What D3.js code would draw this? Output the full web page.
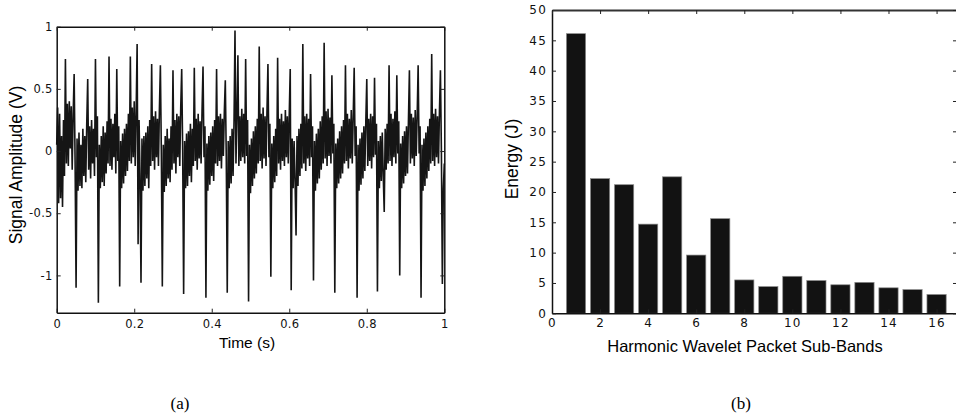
<!DOCTYPE html>
<html>
<head>
<meta charset="utf-8">
<script src="https://cdn.jsdelivr.net/npm/d3@7"></script>
<style>
  body { margin: 0; background: #fff; }
  svg { display: block; }
  .tick text { fill: #111; }
</style>
</head>
<body>
<script>
// ---- data ----
// (a) vibration signal, 400 samples over 1 s
const signalDuration = 1;
const signal = [
  0.05, 0.35, -0.42, 0.3, -0.38, 0.12, -0.45, 0.25, -0.2, 0.74, -0.1, 0.38, -0.12, 0.4, 0.02, 0.36, -0.15, 0.3, 0.62, -0.1,
  -1.10, 0.1, -0.32, 0.15, -0.28, 0.05, -0.3, 0.18, -0.2, 0.12, -0.25, 0.22, 0.58, -0.15, 0.2, -0.22, 0.25, -0.1, 0.18, -0.2,
  0.74, -0.05, 0.28, -1.22, 0.05, -0.3, 0.12, -0.25, 0.2, -0.28, 0.15, -0.18, 0.24, -0.1, 0.76, -0.12, 0.26, -0.15, 0.22, -0.05,
  0.3, -0.18, 0.66, -0.08, 0.2, -1.09, 0.08, -0.3, 0.14, -0.26, 0.18, -0.2, 0.22, -0.16, 0.3, -0.08, 0.76, -0.1, 0.35, -0.05,
  0.4, -0.12, 0.32, 0.86, -0.75, 0.25, -0.2, -1.06, 0.1, -0.32, 0.12, -0.28, 0.15, -0.22, 0.2, -0.3, 0.25, -0.12, 0.70, -0.08,
  0.28, -0.15, 0.32, -0.05, 0.26, -0.12, 0.34, 0.69, -0.02, -1.09, 0.05, -0.33, 0.12, -0.28, 0.18, -0.22, 0.1, -0.25, 0.2, -0.15,
  0.65, -0.1, 0.25, -0.18, 0.3, -0.05, 0.28, -0.12, 0.35, 0.66, 0.0, -1.15, 0.08, -0.3, 0.14, -0.28, 0.16, -0.2, 0.22, -0.25,
  0.18, -0.12, 0.67, -0.08, 0.26, -0.15, 0.3, -0.06, 0.24, -0.1, 0.33, 0.68, -0.05, 0.2, -1.18, 0.06, -0.32, 0.12, -0.27, 0.15,
  -0.2, 0.2, -0.24, 0.25, -0.1, 0.66, -0.12, 0.28, -0.08, 0.3, -0.14, 0.26, -0.04, 0.32, 0.57, -0.06, -1.14, 0.08, -0.3, 0.12,
  -0.26, 0.18, -0.2, 0.24, 0.97, -0.1, 0.3, 0.77, -0.12, 0.28, -0.08, 0.34, -0.05, 0.3, -0.1, 0.74, -0.04, 0.25, -1.21, 0.05,
  -0.34, 0.1, -0.28, 0.16, -0.22, 0.2, -0.18, 0.26, -0.1, 0.84, -0.08, 0.3, -0.14, 0.35, -0.06, 0.28, -0.12, 0.32, 0.70, -0.05,
  0.22, -1.01, 0.06, -0.3, 0.12, -0.25, 0.18, -0.2, 0.75, -0.1, 0.26, -0.15, 0.3, -0.08, 0.24, -0.12, 0.33, -0.05, 0.28, -0.1,
  0.3, 0.66, -1.12, 0.1, -0.3, 0.08, -0.25, -0.68, 0.12, -0.28, 0.18, -0.2, 0.22, -0.14, 0.86, -0.1, 0.28, -0.16, 0.3, -0.06,
  0.26, -0.12, 0.62, -0.05, 0.2, -1.04, 0.08, -0.32, 0.14, -0.26, 0.18, -0.22, 0.24, -0.15, 0.28, -0.1, 0.87, -0.06, 0.32, -0.12,
  0.34, -0.04, 0.27, -0.1, 0.61, -0.02, 0.22, -1.14, 0.06, -0.3, 0.1, -0.26, 0.16, -0.22, 0.2, -0.18, 0.25, -0.1, 0.69, -0.08,
  0.3, -0.14, 0.26, -0.06, 0.33, -0.1, 0.28, 0.67, -0.04, 0.2, -1.18, 0.05, -0.32, 0.1, -0.27, 0.15, -0.22, 0.2, -0.16, 0.24,
  0.58, -0.12, 0.26, -0.08, 0.3, -0.14, 0.28, -0.05, 0.59, -0.03, 0.22, -1.13, 0.08, -0.3, 0.12, -0.24, 0.15, -0.2, -0.49, 0.18,
  -0.15, 0.22, -0.1, 0.69, -0.08, 0.3, -0.12, 0.26, -0.05, 0.32, -0.1, 0.61, -0.02, 0.24, -1.00, 0.06, -0.3, 0.12, -0.26, 0.16,
  -0.2, 0.2, -0.18, 0.25, 0.65, -0.1, 0.3, -0.06, 0.27, -0.12, 0.33, -0.04, 0.28, 0.69, -0.02, 0.2, -1.18, 0.05, -0.32, 0.1,
  -0.28, 0.15, -0.22, 0.2, -0.16, 0.26, -0.1, 0.78, -0.08, 0.3, -0.12, 0.34, -0.05, 0.28, -0.1, 0.32, 0.65, 0.0, -1.07, -0.3,
  -0.1
];
const timeTicks = [0, 0.2, 0.4, 0.6, 0.8, 1];
const ampTicks = [-1, -0.5, 0, 0.5, 1];

// (b) energy per sub-band
const bands = [1, 2, 3, 4, 5, 6, 7, 8, 9, 10, 11, 12, 13, 14, 15, 16];
const energy = [46.1, 22.2, 21.2, 14.7, 22.5, 9.6, 15.6, 5.5, 4.4, 6.1, 5.4, 4.7, 5.1, 4.2, 3.9, 3.1];
const bandTicks = [0, 2, 4, 6, 8, 10, 12, 14, 16];
const energyTicks = [0, 5, 10, 15, 20, 25, 30, 35, 40, 45, 50];

const w = 956;
const h = 419;

const svg = d3
  .select("body")
  .append("svg")
  .attr("width", w)
  .attr("height", h);

// helper: matlab-ish box with inward ticks
function drawBox(g, x, y, xTicks, yTicks, opts) {
  const [x0, x1] = x.range();
  const [y0, y1] = y.range();
  const tick = 4;

  const bottom = g.append("g")
    .attr("transform", `translate(0, ${y0})`)
    .call(d3.axisBottom(x).tickValues(xTicks).tickSize(-tick).tickSizeOuter(0)
      .tickPadding(opts.xPad).tickFormat(d => String(d)));
  const left = g.append("g")
    .attr("transform", `translate(${x0}, 0)`)
    .call(d3.axisLeft(y).tickValues(yTicks).tickSize(-tick).tickSizeOuter(0)
      .tickPadding(opts.yPad).tickFormat(d => String(d)));
  const top = g.append("g")
    .attr("transform", `translate(0, ${y1})`)
    .call(d3.axisTop(x).tickValues(xTicks).tickSize(-tick).tickSizeOuter(0).tickFormat(""));
  const right = g.append("g")
    .attr("transform", `translate(${x1}, 0)`)
    .call(d3.axisRight(y).tickValues(yTicks).tickSize(-tick).tickSizeOuter(0).tickFormat(""));

  [bottom, left, top, right].forEach(a => {
    a.select(".domain").attr("stroke", "#111").attr("stroke-width", 1.5);
    a.selectAll(".tick line").attr("stroke", "#222").attr("stroke-width", 1);
  });
  [bottom, left].forEach(a => {
    a.selectAll(".tick text")
      .style("font-family", "'DejaVu Sans', sans-serif")
      .style("font-size", opts.fontSize + "px")
      .style("letter-spacing", opts.spacing + "px");
  });
  return { bottom, left, top, right };
}

// ---------- (a) signal ----------
const xa = d3.scaleLinear().domain([0, signalDuration]).range([56.7, 444.3]);
const ya = d3.scaleLinear().domain([-1.3, 1]).range([312.7, 26.7]);

const ga = svg.append("g");

const line = d3.line()
  .x((d, i) => xa(i * signalDuration / (signal.length - 1)))
  .y(d => ya(d));

ga.append("path")
  .datum(signal)
  .attr("d", line)
  .attr("fill", "none")
  .attr("stroke", "#151515")
  .attr("stroke-width", 1.6)
  .attr("stroke-linejoin", "bevel");

const boxA = drawBox(ga, xa, ya, timeTicks, ampTicks, { xPad: 7, yPad: 4, fontSize: 11.5, spacing: 0.3 });

ga.append("text")
  .attr("x", 247)
  .attr("y", 348)
  .attr("text-anchor", "middle")
  .style("font-family", "'Liberation Sans', Arial, sans-serif")
  .style("font-size", "15.5px")
  .text("Time (s)");

ga.append("text")
  .attr("transform", "translate(22, 165) rotate(-90)")
  .attr("text-anchor", "middle")
  .style("font-family", "'Liberation Sans', Arial, sans-serif")
  .style("font-size", "17.5px")
  .text("Signal Amplitude (V)");

ga.append("text")
  .attr("x", 180)
  .attr("y", 409)
  .attr("text-anchor", "middle")
  .style("font-family", "'Liberation Serif', 'Times New Roman', serif")
  .style("font-size", "17px")
  .text("(a)");

// ---------- (b) energy bars ----------
const xb = d3.scaleLinear().domain([0, 16.85]).range([552, 957]);
const yb = d3.scaleLinear().domain([0, 50]).range([313.3, 10]);

const gb = svg.append("g");

gb.selectAll("rect")
  .data(bands)
  .enter()
  .append("rect")
  .attr("x", d => xb(d - 0.4))
  .attr("width", d => xb(d + 0.4) - xb(d - 0.4))
  .attr("y", (d, i) => yb(energy[i]))
  .attr("height", (d, i) => yb(0) - yb(energy[i]))
  .attr("fill", "#121212")
  .attr("stroke", "#8a8a8a")
  .attr("stroke-width", 0.7);

const boxB = drawBox(gb, xb, yb, bandTicks, energyTicks, { xPad: 5, yPad: 5, fontSize: 12, spacing: 1.2 });
boxB.top.select(".domain").attr("stroke", "#333").attr("stroke-width", 2.2);

gb.append("text")
  .attr("x", 745)
  .attr("y", 352)
  .attr("text-anchor", "middle")
  .style("font-family", "'Liberation Sans', Arial, sans-serif")
  .style("font-size", "16.5px")
  .text("Harmonic Wavelet Packet Sub-Bands");

gb.append("text")
  .attr("transform", "translate(518, 159) rotate(-90)")
  .attr("text-anchor", "middle")
  .style("font-family", "'Liberation Sans', Arial, sans-serif")
  .style("font-size", "17.5px")
  .text("Energy (J)");

gb.append("text")
  .attr("x", 741)
  .attr("y", 409)
  .attr("text-anchor", "middle")
  .style("font-family", "'Liberation Serif', 'Times New Roman', serif")
  .style("font-size", "17px")
  .text("(b)");
</script>
</body>
</html>
